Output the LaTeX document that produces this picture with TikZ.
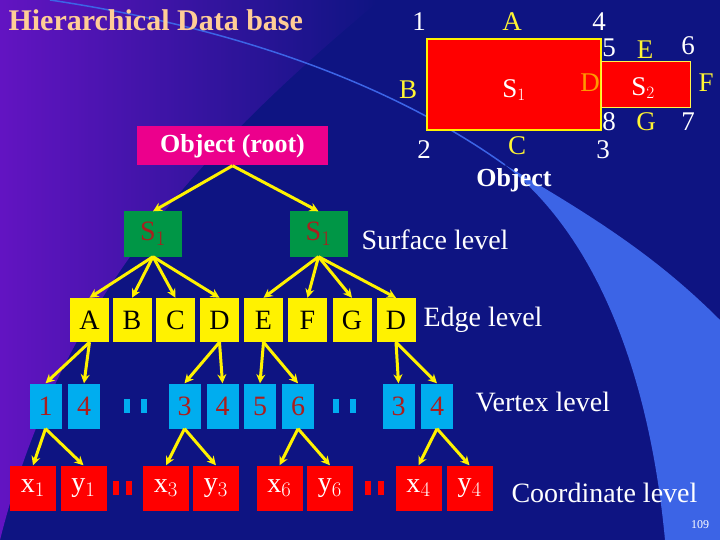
\documentclass[tikz,border=0pt]{standalone}
\usepackage{fontspec}
\setmainfont{Liberation Serif}
\usetikzlibrary{arrows.meta}
\definecolor{bgdark}{RGB}{14,20,130}
\definecolor{bgpurple}{RGB}{120,20,210}
\definecolor{swoosh}{RGB}{60,100,230}
\definecolor{peach}{RGB}{255,205,150}
\definecolor{boxgreen}{RGB}{0,150,70}
\definecolor{numred}{RGB}{170,30,30}
\tikzset{
  box/.style={draw=none,inner sep=0pt,font=\fontsize{28}{28}\selectfont},
  sbox/.style={box,fill=boxgreen,minimum width=58pt,minimum height=45pt,text=numred},
  ebox/.style={box,fill=yellow,minimum width=39pt,minimum height=44pt},
  vbox/.style={box,fill=cyan,minimum width=32pt,minimum height=45pt,text=numred},
  cbox/.style={box,fill=red,minimum width=46pt,minimum height=45pt,text=white},
  lev/.style={text=white,font=\fontsize{28}{28}\selectfont,anchor=west},
  lab/.style={text=white,font=\fontsize{27}{27}\selectfont},
  ylab/.style={text=yellow!80!white,font=\fontsize{27}{27}\selectfont},
  arr/.style={-{Stealth[length=9pt,width=9pt]},yellow,line width=3pt},
}
\begin{document}
\begin{tikzpicture}[x=1pt,y=-1pt]
        \useasboundingbox (0,0) rectangle (720,540);
        %背景
        \fill[bgdark] (0,0) rectangle (720,540);
        \shade[left color=bgpurple,right color=bgdark,opacity=0.8] (0,0) -- (380,0) .. controls (200,150) and (60,300) .. (0,540) -- cycle;
        \fill[swoosh] (505,165) .. controls (600,240) and (650,380) .. (665,540) -- (720,540) -- (720,320) .. controls (660,260) and (600,220) .. cycle;
        \draw[swoosh,line width=1.5pt] (50,0) .. controls (250,30) and (400,90) .. (505,165);
        %タイトル
        \node[text=peach,font=\bfseries\fontsize{30}{30}\selectfont,anchor=west] (title) at (5,20) {Hierarchical Data base};
        %物体の図
        \node[draw=yellow,line width=2pt,fill=red,minimum width=174pt,minimum height=91pt,inner sep=0pt] (big) at (514,84.5) {};
        \node[draw=yellow!70!white,line width=0.8pt,fill=red,minimum width=89pt,minimum height=46pt,inner sep=0pt] (small) at (645.5,84) {};
        \node[lab] (n1) at (419,22) {1};
        \node[ylab] (la) at (512,22) {A};
        \node[lab] (n4) at (599,22) {4};
        \node[lab] (n5) at (609,48) {5};
        \node[ylab] (le) at (645,50) {E};
        \node[lab] (n6) at (688,46) {6};
        \node[ylab] (lb) at (408,90) {B};
        \node[lab] (s1) at (514,90) {S$_1$};
        \node[text=orange!80!yellow,font=\fontsize{27}{27}\selectfont] (ld) at (590,83) {D};
        \node[lab] (s2) at (643,88) {S$_2$};
        \node[ylab] (lf) at (706,83) {F};
        \node[lab] (n8) at (609,122) {8};
        \node[ylab] (lg) at (646,122) {G};
        \node[lab] (n7) at (688,122) {7};
        \node[lab] (n2) at (424,150) {2};
        \node[ylab] (lc) at (517,146) {C};
        \node[lab] (n3) at (603,150) {3};
        \node[text=white,font=\bfseries\fontsize{26}{26}\selectfont] (obj) at (514,180) {Object};
        %木構造
        \node[box,fill=magenta,text=white,minimum width=191pt,minimum height=39pt,font=\bfseries\fontsize{26}{26}\selectfont] (root) at (232.5,146) {Object (root)};
        \node[sbox] (sa) at (153,234) {S$_1$};
        \node[sbox] (sb) at (318.5,234) {S$_1$};
        %辺
        \node[ebox] (ea) at (89.5,320) {A};
        \node[ebox] (eb) at (132,320) {B};
        \node[ebox] (ec) at (175.5,320) {C};
        \node[ebox] (ed) at (219.5,320) {D};
        \node[ebox] (ee) at (263.5,320) {E};
        \node[ebox] (ef) at (307.5,320) {F};
        \node[ebox] (eg) at (352,320) {G};
        \node[ebox] (eh) at (396,320) {D};
        %頂点
        \node[vbox] (v1) at (45.5,406) {1};
        \node[vbox] (v2) at (84,406) {4};
        \node[vbox] (v3) at (184.5,406) {3};
        \node[vbox] (v4) at (222.5,406) {4};
        \node[vbox] (v5) at (260,406) {5};
        \node[vbox] (v6) at (298,406) {6};
        \node[vbox] (v7) at (398.5,406) {3};
        \node[vbox] (v8) at (437,406) {4};
        \foreach \x in {127,144,336,353} \fill[cyan] (\x-3,399) rectangle (\x+3,413);
        %座標
        \node[cbox] (c1) at (33,488) {x$_1$};
        \node[cbox] (c2) at (83.5,488) {y$_1$};
        \node[cbox] (c3) at (166,488) {x$_3$};
        \node[cbox] (c4) at (216,488) {y$_3$};
        \node[cbox] (c5) at (279.5,488) {x$_6$};
        \node[cbox] (c6) at (330,488) {y$_6$};
        \node[cbox] (c7) at (418.5,488) {x$_4$};
        \node[cbox] (c8) at (469.5,488) {y$_4$};
        \foreach \x in {116,129,368,381} \fill[red] (\x-3,481) rectangle (\x+3,495);
        %矢印
        \draw[arr] (root.south) -- (sa.north);
        \draw[arr] (root.south) -- (sb.north);
        \foreach \c in {ea,eb,ec,ed} \draw[arr] (sa.south) -- (\c.north);
        \foreach \c in {ee,ef,eg,eh} \draw[arr] (sb.south) -- (\c.north);
        \foreach \p/\c in {ea/v1,ea/v2,ed/v3,ed/v4,ee/v5,ee/v6,eh/v7,eh/v8} \draw[arr] (\p.south) -- (\c.north);
        \foreach \p/\c in {v1/c1,v1/c2,v3/c3,v3/c4,v6/c5,v6/c6,v8/c7,v8/c8} \draw[arr] (\p.south) -- (\c.north);
        %レベル名
        \node[lev] (surf) at (358,240) {Surface level};
        \node[lev] (edge) at (420,320) {Edge level};
        \node[lev] (vert) at (472,402) {Vertex level};
        \node[lev] (coord) at (508,493) {Coordinate level};
        \node[text=white,font=\fontsize{12}{12}\selectfont] (page) at (700,525) {109};
\end{tikzpicture}
\end{document}
